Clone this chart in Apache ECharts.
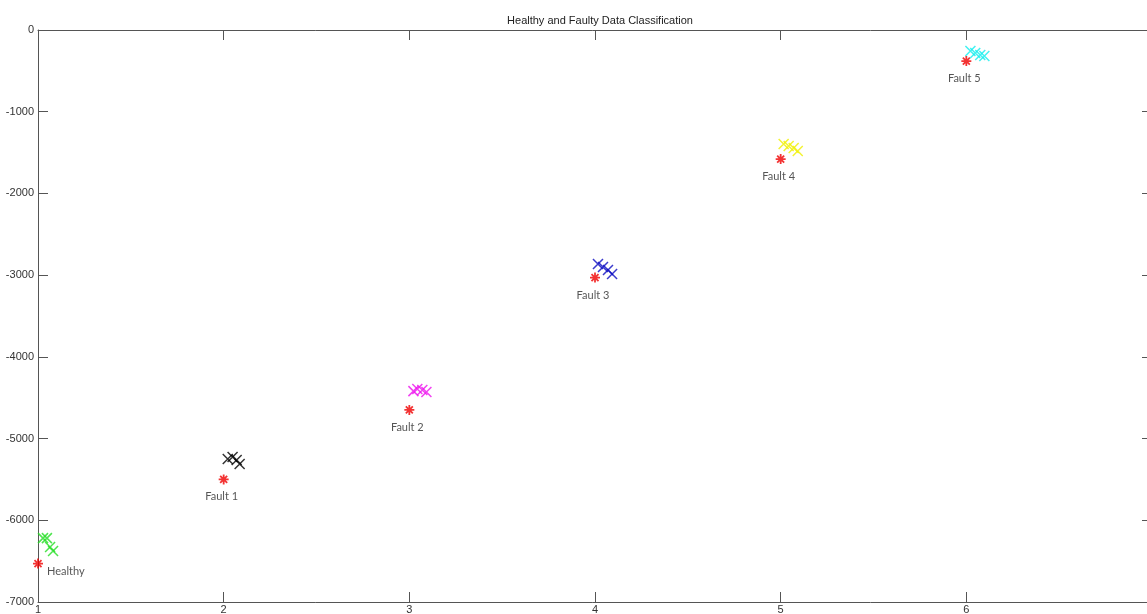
<!DOCTYPE html>
<html>
<head>
<meta charset="utf-8">
<title>Healthy and Faulty Data Classification</title>
<script src="https://cdn.jsdelivr.net/npm/echarts@6/dist/echarts.min.js"></script>
<style>
  html, body { margin: 0; padding: 0; background: #fff; }
  #chart { width: 1147px; height: 614px; }
</style>
</head>
<body>
<div id="chart"></div>
<script>
// Class labels and their reference points (red stars)
const classNames = ['Healthy', 'Fault 1', 'Fault 2', 'Fault 3', 'Fault 4', 'Fault 5'];
const refX = [1, 2, 3, 4, 5, 6];
const refY = [-6530, -5500, -4650, -3030, -1580, -380];

// Classified samples for each class
const healthyX = [1.027, 1.048, 1.065, 1.081];
const healthyY = [-6218, -6218, -6328, -6377];
const fault1X = [2.022, 2.048, 2.070, 2.086];
const fault1Y = [-5251, -5226, -5263, -5312];
const fault2X = [3.022, 3.043, 3.070, 3.092];
const fault2Y = [-4419, -4394, -4406, -4431];
const fault3X = [4.016, 4.043, 4.070, 4.092];
const fault3Y = [-2864, -2900, -2938, -2987];
const fault4X = [5.016, 5.043, 5.070, 5.092];
const fault4Y = [-1395, -1420, -1444, -1481];
const fault5X = [6.022, 6.048, 6.075, 6.097];
const fault5Y = [-257, -282, -306, -318];

// Axis ticks
const xTicks = [1, 2, 3, 4, 5, 6, 7];
const yTicks = [-7000, -6000, -5000, -4000, -3000, -2000, -1000, 0];

const clusterColors = ['#22dd22', '#000000', '#ee11ee', '#0a0ac0', '#f0f000', '#11eeee'];
const clusters = [
  [healthyX, healthyY], [fault1X, fault1Y], [fault2X, fault2Y],
  [fault3X, fault3Y], [fault4X, fault4Y], [fault5X, fault5Y]
];

const crossPath = 'path://M0,0L10,10M10,0L0,10';
const starPath = 'path://M5,0L5,10M0,5L10,5M1.5,1.5L8.5,8.5M1.5,8.5L8.5,1.5';

const zip = (xs, ys) => xs.map((x, i) => [x, ys[i]]);

const series = [];
clusters.forEach((c, k) => {
  series.push({
    type: 'scatter',
    name: classNames[k] + ' samples',
    data: zip(c[0], c[1]),
    symbol: crossPath,
    symbolSize: 10,
    itemStyle: { color: 'rgba(0,0,0,0)', borderColor: clusterColors[k], borderWidth: 1.5 },
    emphasis: { disabled: true },
    silent: true,
    z: 3
  });
});

series.push({
  type: 'scatter',
  name: 'Reference',
  data: refX.map((x, i) => ({
    value: [x, refY[i]],
    name: classNames[i],
    label: i === 0
      ? { position: 'right', offset: [0, 8], distance: 3 }
      : { position: 'bottom', offset: [-2, 3], distance: 3 }
  })),
  symbol: starPath,
  symbolSize: 10,
  itemStyle: { color: 'rgba(0,0,0,0)', borderColor: '#f00000', borderWidth: 1.8 },
  label: {
    show: true,
    formatter: p => p.name,
    fontFamily: 'Lato, "Open Sans", sans-serif',
    fontSize: 11,
    color: '#2a2a2a'
  },
  emphasis: { disabled: true },
  silent: true,
  z: 4
});

const axisLine = { show: true, onZero: false, lineStyle: { color: '#555', width: 1 } };
const axisTick = { show: true, inside: true, length: 10, lineStyle: { color: '#555', width: 1 } };
const axisLabelStyle = {
  fontFamily: '"Liberation Sans", Arial, sans-serif', fontSize: 11, color: '#333',
  formatter: v => String(v)
};

const chart = echarts.init(document.getElementById('chart'), null, { renderer: 'canvas' });
chart.setOption({
  animation: false,
  backgroundColor: '#ffffff',
  title: {
    text: 'Healthy and Faulty Data Classification',
    left: 595,
    textAlign: 'center',
    top: 10,
    textStyle: { fontFamily: '"Liberation Sans", Arial, sans-serif', fontSize: 11, fontWeight: 'normal', color: '#222' }
  },
  grid: { left: 38, top: 30, right: -5, bottom: 12, containLabel: false, outerBoundsMode: 'none' },
  xAxis: [
    {
      type: 'value', position: 'bottom',
      min: xTicks[0], max: xTicks[xTicks.length - 1], interval: 1,
      axisLine, axisTick, splitLine: { show: false },
      axisLabel: Object.assign({ margin: 2 }, axisLabelStyle)
    },
    {
      type: 'value', position: 'top',
      min: xTicks[0], max: xTicks[xTicks.length - 1], interval: 1,
      axisLine, axisTick, splitLine: { show: false },
      axisLabel: { show: false }
    }
  ],
  yAxis: [
    {
      type: 'value', position: 'left',
      min: yTicks[0], max: yTicks[yTicks.length - 1], interval: 1000,
      axisLine, axisTick, splitLine: { show: false },
      axisLabel: Object.assign({ margin: 4 }, axisLabelStyle)
    },
    {
      type: 'value', position: 'right',
      min: yTicks[0], max: yTicks[yTicks.length - 1], interval: 1000,
      axisLine, axisTick, splitLine: { show: false },
      axisLabel: { show: false }
    }
  ],
  series
});
</script>
</body>
</html>
